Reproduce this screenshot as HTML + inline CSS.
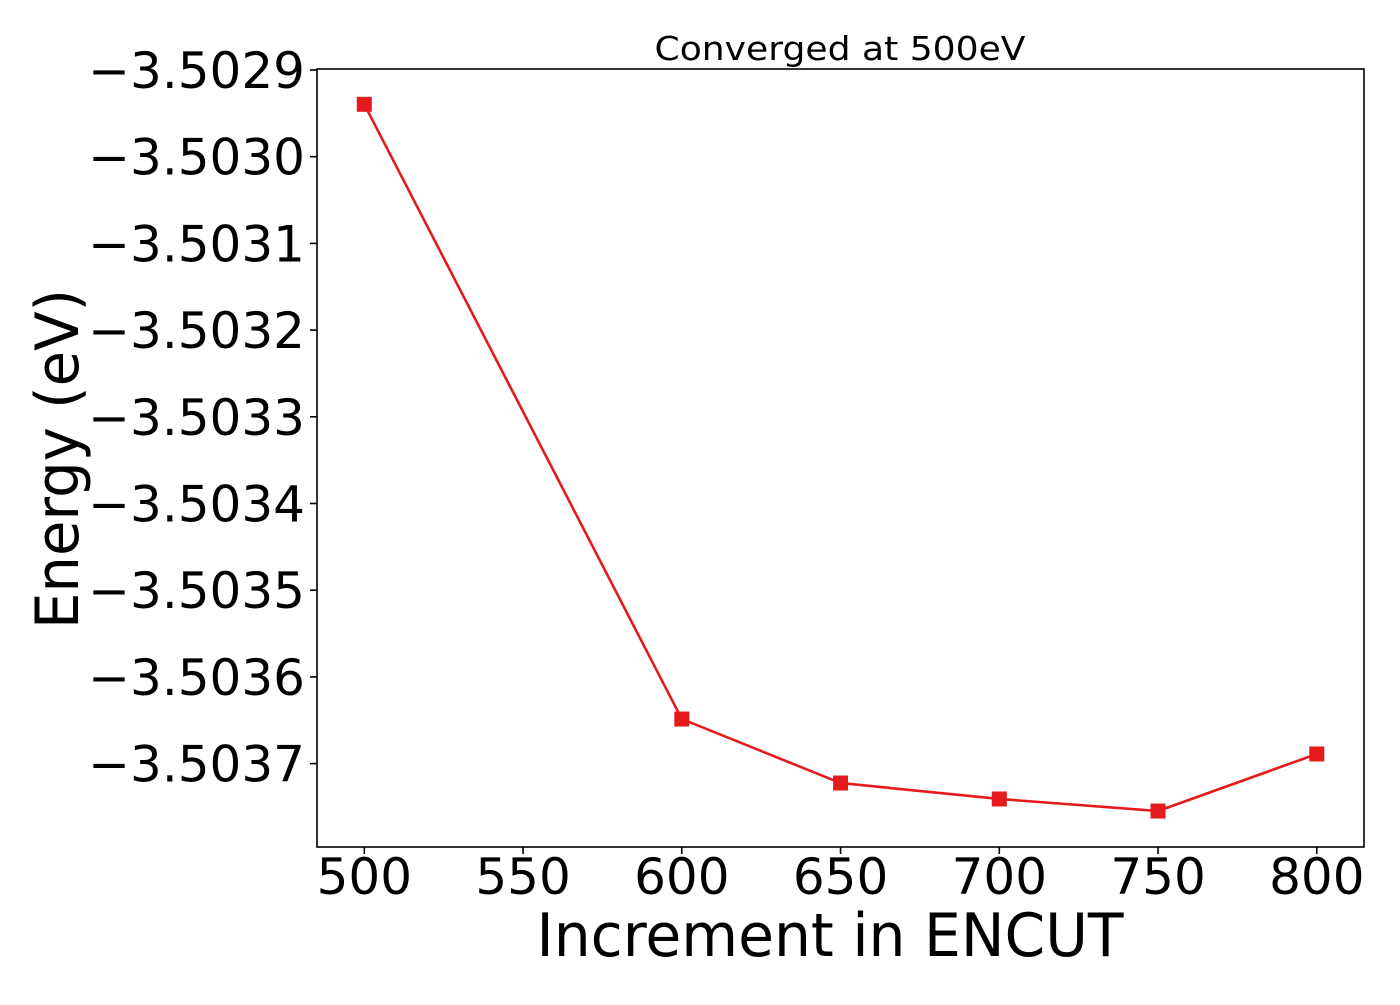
<!DOCTYPE html>
<html><head><meta charset="utf-8"><style>
body{margin:0;background:#fff;}
svg text{font-family:"DejaVu Sans","Liberation Sans",sans-serif;fill:#000;}
</style></head><body>
<svg id="chart" width="1400" height="1000" xmlns="http://www.w3.org/2000/svg">
<rect x="0" y="0" width="1400" height="1000" fill="#fff"/>
<g id="ticks"></g>
<g id="plot"></g>
<rect x="317" y="69" width="1047" height="778" fill="none" stroke="#000" stroke-width="1.6"/>
<text x="840" y="60" font-size="33" text-anchor="middle" textLength="371" lengthAdjust="spacingAndGlyphs">Converged at 500eV</text>
<text x="830" y="956" font-size="60" text-anchor="middle" textLength="587" lengthAdjust="spacingAndGlyphs">Increment in ENCUT</text>
<text transform="translate(78,459) rotate(-90)" font-size="60" text-anchor="middle" textLength="340" lengthAdjust="spacingAndGlyphs">Energy (eV)</text>
</svg>
<script>
const xValues = [500, 600, 650, 700, 750, 800];
const energies = [-3.5029396, -3.5036486, -3.5037224, -3.5037408, -3.5037547, -3.5036889];
const xTicks = [500, 550, 600, 650, 700, 750, 800];
const yTicks = [-3.5029, -3.5030, -3.5031, -3.5032, -3.5033, -3.5034, -3.5035, -3.5036, -3.5037];
const yTickLabels = ["\u22123.5029","\u22123.5030","\u22123.5031","\u22123.5032","\u22123.5033","\u22123.5034","\u22123.5035","\u22123.5036","\u22123.5037"];
const NS = "http://www.w3.org/2000/svg";
function xScale(v){ return 364.3 + (v - 500) * 3.175; }
function yScale(v){ return 70 + (-3.5029 - v) / 0.0001 * 86.7; }
const ticks = document.getElementById('ticks');
const plot = document.getElementById('plot');
function mk(tag, attrs){ const e = document.createElementNS(NS, tag); for (const k in attrs) e.setAttribute(k, attrs[k]); return e; }
xTicks.forEach(t => {
  const x = xScale(t);
  const l = mk('line', {x1:x, x2:x, y1:847, y2:854, stroke:'#000', 'stroke-width':1.6});
  
  
  ticks.appendChild(l);
  const tx = mk('text', {x:x, y:894, 'font-size':50, 'text-anchor':'middle'});
  
  
  tx.textContent = t;
  ticks.appendChild(tx);
});
yTicks.forEach((t, i) => {
  const y = yScale(t);
  const l = mk('line', {x1:310, x2:317, y1:y, y2:y, stroke:'#000', 'stroke-width':1.6});
  
  
  ticks.appendChild(l);
  const tx = mk('text', {x:305, y:y + 18, 'font-size':50, 'text-anchor':'end'});
  
  
  tx.textContent = yTickLabels[i];
  ticks.appendChild(tx);
});
const pts = xValues.map((v, i) => xScale(v) + ',' + yScale(energies[i])).join(' ');
const line = mk('polyline', {points:pts, fill:'none', stroke:'#e41a1c', 'stroke-width':2.6});


plot.appendChild(line);
xValues.forEach((v, i) => {
  const cx = xScale(v), cy = yScale(energies[i]);
  const r = mk('rect', {x:cx - 7.5, y:cy - 7.5, width:15, height:15, fill:'#e41a1c'});
  
  
  plot.appendChild(r);
});
</script>
</body></html>
